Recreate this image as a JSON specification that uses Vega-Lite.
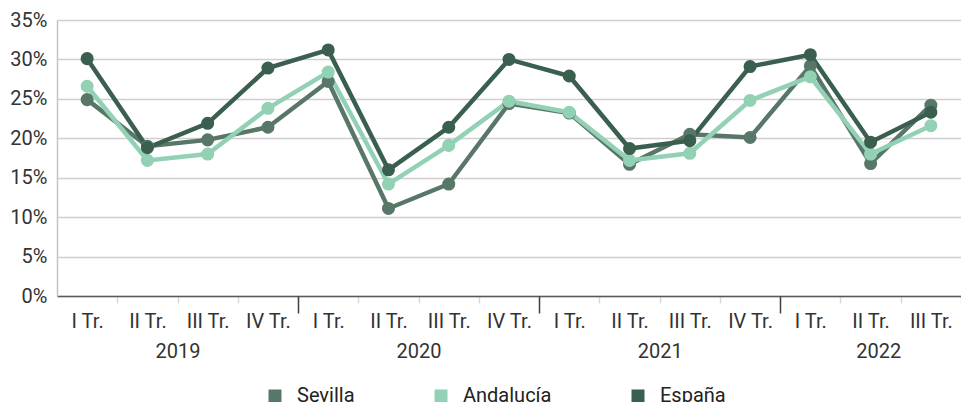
{
  "$schema": "https://vega.github.io/schema/vega-lite/v6.json",
  "width": 904,
  "height": 276,
  "autosize": {"type": "none"},
  "padding": {"left": 57, "top": 20, "right": 0, "bottom": 106},
  "config": {"font": "Roboto", "view": {"stroke": null}},
  "data": {
    "values": [
      {"periodo": "2019 I Tr.", "serie": "Sevilla", "valor": 24.9},
      {"periodo": "2019 II Tr.", "serie": "Sevilla", "valor": 19.0},
      {"periodo": "2019 III Tr.", "serie": "Sevilla", "valor": 19.8},
      {"periodo": "2019 IV Tr.", "serie": "Sevilla", "valor": 21.4},
      {"periodo": "2020 I Tr.", "serie": "Sevilla", "valor": 27.2},
      {"periodo": "2020 II Tr.", "serie": "Sevilla", "valor": 11.1},
      {"periodo": "2020 III Tr.", "serie": "Sevilla", "valor": 14.2},
      {"periodo": "2020 IV Tr.", "serie": "Sevilla", "valor": 24.4},
      {"periodo": "2021 I Tr.", "serie": "Sevilla", "valor": 23.2},
      {"periodo": "2021 II Tr.", "serie": "Sevilla", "valor": 16.7},
      {"periodo": "2021 III Tr.", "serie": "Sevilla", "valor": 20.5},
      {"periodo": "2021 IV Tr.", "serie": "Sevilla", "valor": 20.1},
      {"periodo": "2022 I Tr.", "serie": "Sevilla", "valor": 29.2},
      {"periodo": "2022 II Tr.", "serie": "Sevilla", "valor": 16.8},
      {"periodo": "2022 III Tr.", "serie": "Sevilla", "valor": 24.2},
      {"periodo": "2019 I Tr.", "serie": "Andalucía", "valor": 26.6},
      {"periodo": "2019 II Tr.", "serie": "Andalucía", "valor": 17.2},
      {"periodo": "2019 III Tr.", "serie": "Andalucía", "valor": 18.0},
      {"periodo": "2019 IV Tr.", "serie": "Andalucía", "valor": 23.8},
      {"periodo": "2020 I Tr.", "serie": "Andalucía", "valor": 28.4},
      {"periodo": "2020 II Tr.", "serie": "Andalucía", "valor": 14.2},
      {"periodo": "2020 III Tr.", "serie": "Andalucía", "valor": 19.1},
      {"periodo": "2020 IV Tr.", "serie": "Andalucía", "valor": 24.7},
      {"periodo": "2021 I Tr.", "serie": "Andalucía", "valor": 23.3},
      {"periodo": "2021 II Tr.", "serie": "Andalucía", "valor": 17.2},
      {"periodo": "2021 III Tr.", "serie": "Andalucía", "valor": 18.1},
      {"periodo": "2021 IV Tr.", "serie": "Andalucía", "valor": 24.8},
      {"periodo": "2022 I Tr.", "serie": "Andalucía", "valor": 27.8},
      {"periodo": "2022 II Tr.", "serie": "Andalucía", "valor": 18.0},
      {"periodo": "2022 III Tr.", "serie": "Andalucía", "valor": 21.6},
      {"periodo": "2019 I Tr.", "serie": "España", "valor": 30.1},
      {"periodo": "2019 II Tr.", "serie": "España", "valor": 18.8},
      {"periodo": "2019 III Tr.", "serie": "España", "valor": 21.9},
      {"periodo": "2019 IV Tr.", "serie": "España", "valor": 28.9},
      {"periodo": "2020 I Tr.", "serie": "España", "valor": 31.2},
      {"periodo": "2020 II Tr.", "serie": "España", "valor": 16.0},
      {"periodo": "2020 III Tr.", "serie": "España", "valor": 21.4},
      {"periodo": "2020 IV Tr.", "serie": "España", "valor": 30.0},
      {"periodo": "2021 I Tr.", "serie": "España", "valor": 27.9},
      {"periodo": "2021 II Tr.", "serie": "España", "valor": 18.7},
      {"periodo": "2021 III Tr.", "serie": "España", "valor": 19.7},
      {"periodo": "2021 IV Tr.", "serie": "España", "valor": 29.1},
      {"periodo": "2022 I Tr.", "serie": "España", "valor": 30.6},
      {"periodo": "2022 II Tr.", "serie": "España", "valor": 19.5},
      {"periodo": "2022 III Tr.", "serie": "España", "valor": 23.3}
    ]
  },
  "layer": [
    {
      "mark": {"type": "line", "strokeWidth": 4.5},
      "encoding": {
        "x": {
          "field": "periodo", "type": "ordinal", "sort": null, "title": null,
          "axis": {
            "orient": "bottom",
            "labelExpr": "slice(datum.value, 5)",
            "labelAngle": 0,
            "labelFont": "Roboto",
            "labelFontSize": 20,
            "labelColor": "#333333",
            "tickOffset": 30.13,
            "labelOffset": -30.13,
            "tickSize": 7,
            "tickColor": "#d9d9d9",
            "tickWidth": 1.5,
            "labelPadding": 8,
            "domainColor": "#595959",
            "domainWidth": 1.5,
            "grid": false
          }
        },
        "y": {
          "field": "valor", "type": "quantitative", "scale": {"domain": [0, 35]}, "title": null,
          "axis": {
            "values": [0, 5, 10, 15, 20, 25, 30, 35],
            "labelExpr": "datum.value + '%'",
            "labelFont": "Roboto",
            "labelFontSize": 20,
            "labelColor": "#333333",
            "ticks": false,
            "labelPadding": 10,
            "domainColor": "#c4c4c4",
            "domainWidth": 1.5,
            "gridColor": "#cfcfcf",
            "gridWidth": 1.5
          }
        },
        "color": {
          "field": "serie", "type": "nominal",
          "scale": {"domain": ["Sevilla", "Andalucía", "España"], "range": ["#587768", "#93d1b4", "#3b5f4f"]},
          "legend": {
            "title": null, "orient": "none", "legendX": 208, "legendY": 366, "direction": "horizontal",
            "gridAlign": "each",
            "symbolType": "square", "symbolSize": 169, "symbolStrokeWidth": 0,
            "labelFont": "Roboto", "labelFontSize": 20, "labelColor": "#222222",
            "labelOffset": 12, "columnPadding": 76
          }
        }
      }
    },
    {
      "mark": {"type": "point", "filled": true, "size": 170, "opacity": 1},
      "encoding": {
        "x": {
          "field": "periodo", "type": "ordinal", "sort": null, "title": null,
          "axis": {
            "orient": "bottom",
            "values": ["2019 III Tr.", "2020 III Tr.", "2021 III Tr.", "2022 III Tr."],
            "labelExpr": "slice(datum.value, 0, 4)",
            "labelAngle": 0,
            "labelFont": "Roboto",
            "labelFontSize": 20,
            "labelColor": "#333333",
            "labelOffset": -30.13,
            "labelAlign": {"condition": {"test": "datum.value == '2022 III Tr.'", "value": "right"}, "value": "center"},
            "ticks": false,
            "domain": false,
            "grid": false,
            "labelPadding": 45
          }
        },
        "y": {
          "field": "valor", "type": "quantitative", "scale": {"domain": [0, 35]}, "title": null,
          "axis": {
            "values": [0, 5, 10, 15, 20, 25, 30, 35],
            "labelExpr": "datum.value + '%'",
            "labelFont": "Roboto",
            "labelFontSize": 20,
            "labelColor": "#333333",
            "ticks": false,
            "labelPadding": 10,
            "domainColor": "#c4c4c4",
            "domainWidth": 1.5,
            "gridColor": "#cfcfcf",
            "gridWidth": 1.5
          }
        },
        "color": {
          "field": "serie", "type": "nominal",
          "scale": {"domain": ["Sevilla", "Andalucía", "España"], "range": ["#587768", "#93d1b4", "#3b5f4f"]},
          "legend": {
            "title": null, "orient": "none", "legendX": 208, "legendY": 366, "direction": "horizontal",
            "gridAlign": "each",
            "symbolType": "square", "symbolSize": 169, "symbolStrokeWidth": 0,
            "labelFont": "Roboto", "labelFontSize": 20, "labelColor": "#222222",
            "labelOffset": 12, "columnPadding": 76
          }
        }
      }
    },
    {
      "mark": {"type": "point", "opacity": 0},
      "encoding": {
        "x": {
          "field": "periodo", "type": "ordinal", "sort": null, "title": null,
          "axis": {
            "orient": "bottom",
            "values": ["2019 IV Tr.", "2020 IV Tr.", "2021 IV Tr."],
            "tickOffset": 30.13,
            "tickSize": 17,
            "tickColor": "#404040",
            "tickWidth": 1.5,
            "labels": false,
            "domain": false,
            "grid": false
          }
        },
        "y": {
          "field": "valor", "type": "quantitative", "scale": {"domain": [0, 35]}, "title": null,
          "axis": {
            "values": [0, 5, 10, 15, 20, 25, 30, 35],
            "labelExpr": "datum.value + '%'",
            "labelFont": "Roboto",
            "labelFontSize": 20,
            "labelColor": "#333333",
            "ticks": false,
            "labelPadding": 10,
            "domainColor": "#c4c4c4",
            "domainWidth": 1.5,
            "gridColor": "#cfcfcf",
            "gridWidth": 1.5
          }
        }
      }
    }
  ],
  "resolve": {"axis": {"x": "independent"}}
}
